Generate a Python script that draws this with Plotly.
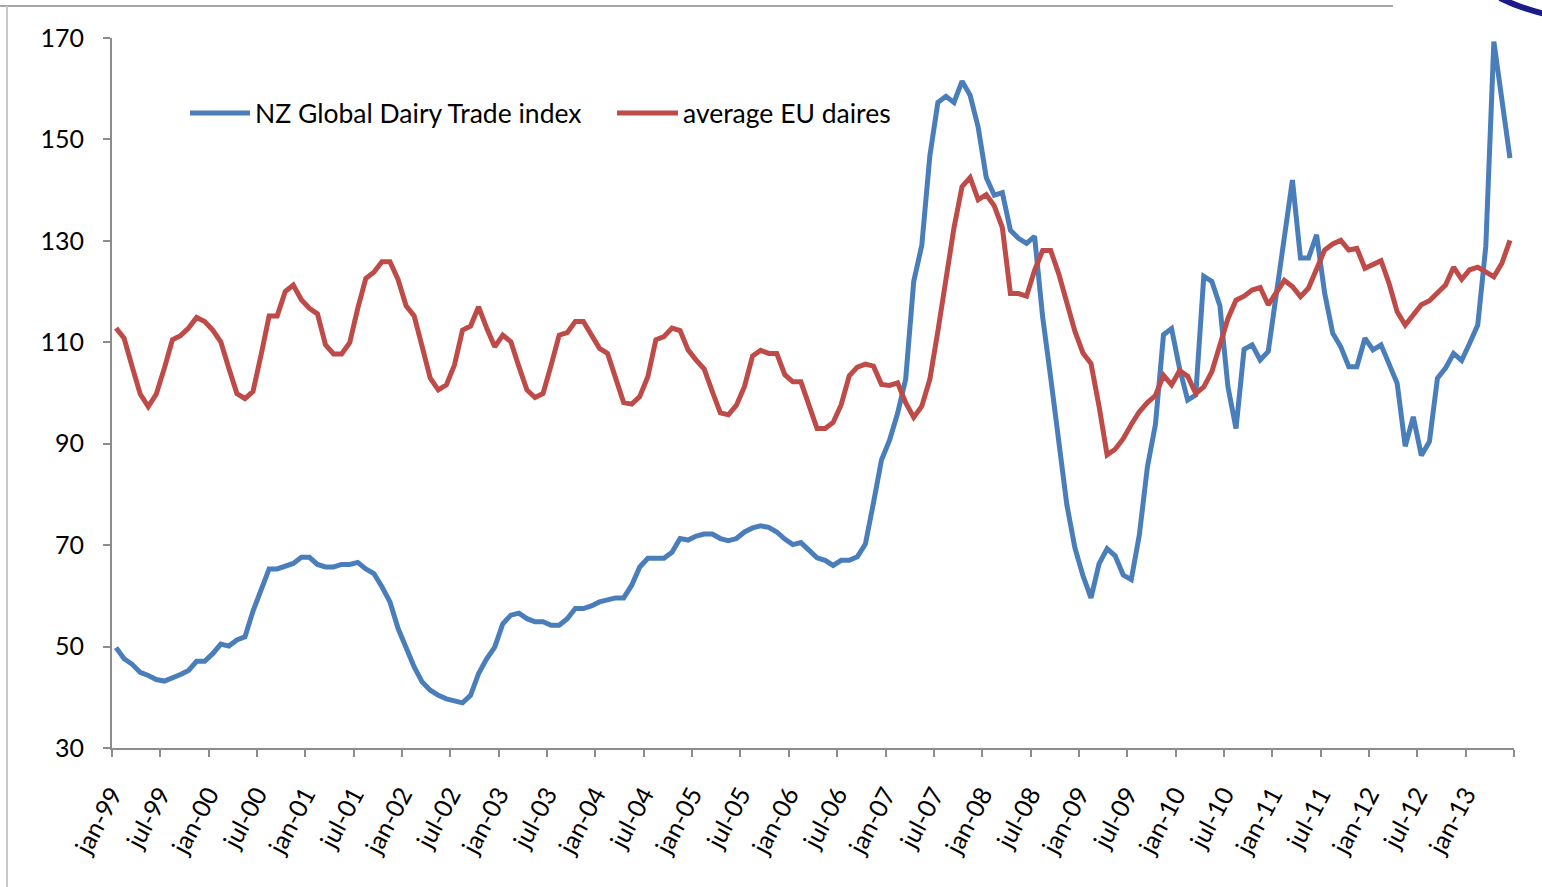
import plotly.graph_objects as go

# ---------------- data (monthly, jan-99 .. jun-13) ----------------
nz_gdt = [
    49.8, 47.6, 46.5, 44.9, 44.3, 43.5, 43.2, 43.8, 44.5, 45.3, 47.1, 47.1,
    48.6, 50.5, 50.1, 51.3, 51.9, 57.0, 61.0, 65.3, 65.3, 65.9, 66.4, 67.6,
    67.6, 66.2, 65.7, 65.7, 66.2, 66.2, 66.6, 65.3, 64.4, 61.8, 58.8, 53.6,
    49.6, 46.0, 43.0, 41.4, 40.4, 39.7, 39.3, 38.9, 40.4, 44.7, 47.6, 49.9,
    54.5, 56.2, 56.6, 55.5, 54.9, 54.9, 54.2, 54.2, 55.5, 57.5, 57.5, 58.0,
    58.8, 59.1, 59.6, 59.6, 62.1, 65.7, 67.4, 67.4, 67.4, 68.6, 71.3, 71.0,
    71.8, 72.2, 72.2, 71.3, 70.9, 71.3, 72.6, 73.4, 73.8, 73.5, 72.6, 71.2,
    70.1, 70.5, 69.0, 67.5, 67.0, 66.0, 67.0, 67.0, 67.7, 70.2, 78.3, 86.8,
    90.7, 96.0, 102.7, 122.0, 129.1, 146.7, 157.3, 158.5, 157.3, 161.5, 158.7, 152.4,
    142.5, 139.0, 139.5, 132.1, 130.5, 129.5, 130.9, 115.0, 103.0, 90.5, 78.0, 69.5,
    64.0, 59.6, 66.3, 69.3, 67.9, 64.1, 63.2, 72.0, 85.4, 93.8, 111.5, 112.7,
    104.8, 98.6, 99.6, 123.0, 122.0, 117.2, 101.2, 93.0, 108.6, 109.5, 106.5, 108.2,
    120.0, 131.3, 142.0, 126.6, 126.6, 131.2, 119.7, 111.8, 109.1, 105.2, 105.2, 110.8,
    108.5, 109.5, 105.8, 101.9, 89.5, 95.3, 87.7, 90.4, 102.9, 104.9, 107.8, 106.4,
    109.8, 113.4, 128.9, 169.3, 157.8, 146.3,
]

eu_avg = [
    112.8, 110.8, 105.2, 99.8, 97.3, 99.8, 104.9, 110.5, 111.3, 112.8, 114.9, 114.1,
    112.4, 110.1, 104.9, 99.9, 98.9, 100.3, 107.5, 115.2, 115.2, 120.0, 121.3, 118.4,
    116.7, 115.6, 109.5, 107.7, 107.7, 109.9, 116.7, 122.6, 123.8, 125.9, 125.9, 122.4,
    117.2, 115.2, 109.1, 102.9, 100.6, 101.6, 105.5, 112.4, 113.2, 117.0, 112.8, 109.1,
    111.4, 110.1, 105.2, 100.6, 99.1, 99.9, 105.5, 111.4, 111.9, 114.1, 114.1, 111.4,
    108.8, 107.8, 102.6, 98.1, 97.8, 99.3, 103.2, 110.5, 111.1, 112.8, 112.3, 108.5,
    106.5, 104.7, 100.3, 96.1, 95.7, 97.6, 101.3, 107.3, 108.4, 107.8, 107.8, 103.6,
    102.2, 102.2, 97.6, 93.0, 93.0, 94.2, 97.7, 103.4, 105.1, 105.7, 105.3, 101.7,
    101.5, 102.0, 98.1, 95.2, 97.4, 102.7, 112.2, 122.4, 132.6, 140.7, 142.5, 138.1,
    139.1, 136.9, 132.6, 119.6, 119.6, 119.1, 124.2, 128.1, 128.1, 123.5, 117.8, 112.2,
    107.9, 105.8, 97.4, 87.8, 88.9, 91.0, 93.8, 96.3, 98.1, 99.5, 103.5, 101.6,
    104.4, 103.3, 99.9, 101.2, 104.2, 109.8, 114.7, 118.3, 119.1, 120.3, 120.8, 117.4,
    119.7, 122.2, 121.0, 119.0, 120.7, 124.3, 128.2, 129.4, 130.1, 128.2, 128.5, 124.6,
    125.3, 126.1, 121.6, 116.0, 113.4, 115.4, 117.4, 118.2, 119.7, 121.3, 124.8, 122.4,
    124.3, 124.8, 123.9, 122.9, 125.6, 130.1,
]

tick_labels = [
    "jan-99", "jul-99", "jan-00", "jul-00", "jan-01", "jul-01", "jan-02", "jul-02",
    "jan-03", "jul-03", "jan-04", "jul-04", "jan-05", "jul-05", "jan-06", "jul-06",
    "jan-07", "jul-07", "jan-08", "jul-08", "jan-09", "jul-09", "jan-10", "jul-10",
    "jan-11", "jul-11", "jan-12", "jul-12", "jan-13", "",
]

y_ticks = [30, 50, 70, 90, 110, 130, 150, 170]

series_names = ["NZ Global Dairy Trade index", "average EU daires"]
series_colors = ["#4A7EBB", "#BE4B48"]

# ---------------- figure ----------------
W, H = 1542, 887
ML, MR, MT, MB = 112, 28, 38, 139
PW, PH = W - ML - MR, H - MT - MB
FONT = "Lato, 'Open Sans', sans-serif"


def px(xp):
    return (xp - ML) / PW


def py(yp):
    return (H - MB - yp) / PH


x_idx = list(range(len(nz_gdt)))
tickvals = [-0.5 + 6 * k for k in range(len(tick_labels))]

fig = go.Figure()
for name, ys, col in zip(series_names, [nz_gdt, eu_avg], series_colors):
    fig.add_trace(go.Scatter(
        x=x_idx, y=ys, mode="lines", name=name,
        line=dict(color=col, width=5), showlegend=False,
    ))

fig.update_layout(
    width=W, height=H,
    margin=dict(l=ML, r=MR, t=MT, b=MB, pad=0),
    paper_bgcolor="white", plot_bgcolor="white",
    font=dict(family=FONT, color="black"),
    xaxis=dict(
        range=[-0.5, len(nz_gdt) - 0.5],
        tickmode="array", tickvals=tickvals, ticktext=tick_labels,
        tickangle=-62, tickfont=dict(size=25, family=FONT, color="black"),
        ticks="outside", ticklen=7, tickwidth=2, tickcolor="#8C8C8C",
        showline=True, linecolor="#8C8C8C", linewidth=2,
        showgrid=False, zeroline=False, ticklabelstandoff=13,
    ),
    yaxis=dict(
        range=[30, 170], tickmode="array", tickvals=y_ticks,
        tickfont=dict(size=25, family=FONT, color="black"),
        ticks="outside", ticklen=7, tickwidth=2, tickcolor="#8C8C8C",
        showline=True, linecolor="#8C8C8C", linewidth=2,
        showgrid=False, zeroline=False, ticklabelstandoff=14,
    ),
)

# manual legend (long line keys as in the original)
legend_items = [(190, 250, 253), (617, 678, 681)]
shapes = []
annotations = []
for (x0, x1, xt), name, col in zip(legend_items, series_names, series_colors):
    shapes.append(dict(type="line", xref="paper", yref="paper",
                       x0=px(x0), x1=px(x1), y0=py(113), y1=py(113),
                       line=dict(color=col, width=5)))
    annotations.append(dict(xref="paper", yref="paper", x=px(xt), y=py(113),
                            text=name, showarrow=False, xanchor="left",
                            yanchor="middle",
                            font=dict(size=26.5, family=FONT, color="black")))

# slide frame lines
shapes.append(dict(type="line", xref="paper", yref="paper",
                   x0=px(0), x1=px(1393), y0=py(6), y1=py(6),
                   line=dict(color="#A6A6A6", width=2)))
shapes.append(dict(type="line", xref="paper", yref="paper",
                   x0=px(7), x1=px(7), y0=py(6), y1=py(887),
                   line=dict(color="#C8C8C8", width=2)))
# decorative swoosh top-right
shapes.append(dict(type="path", xref="paper", yref="paper",
                   path="M {},{} Q {},{} {},{}".format(px(1500), py(-2), px(1520), py(8),
                                                        px(1545), py(14)),
                   line=dict(color="#1B1B8A", width=6)))

fig.update_layout(shapes=shapes, annotations=annotations)

fig.write_html("out.html", config={"displayModeBar": False},
               post_script="document.body.style.margin='0';")
